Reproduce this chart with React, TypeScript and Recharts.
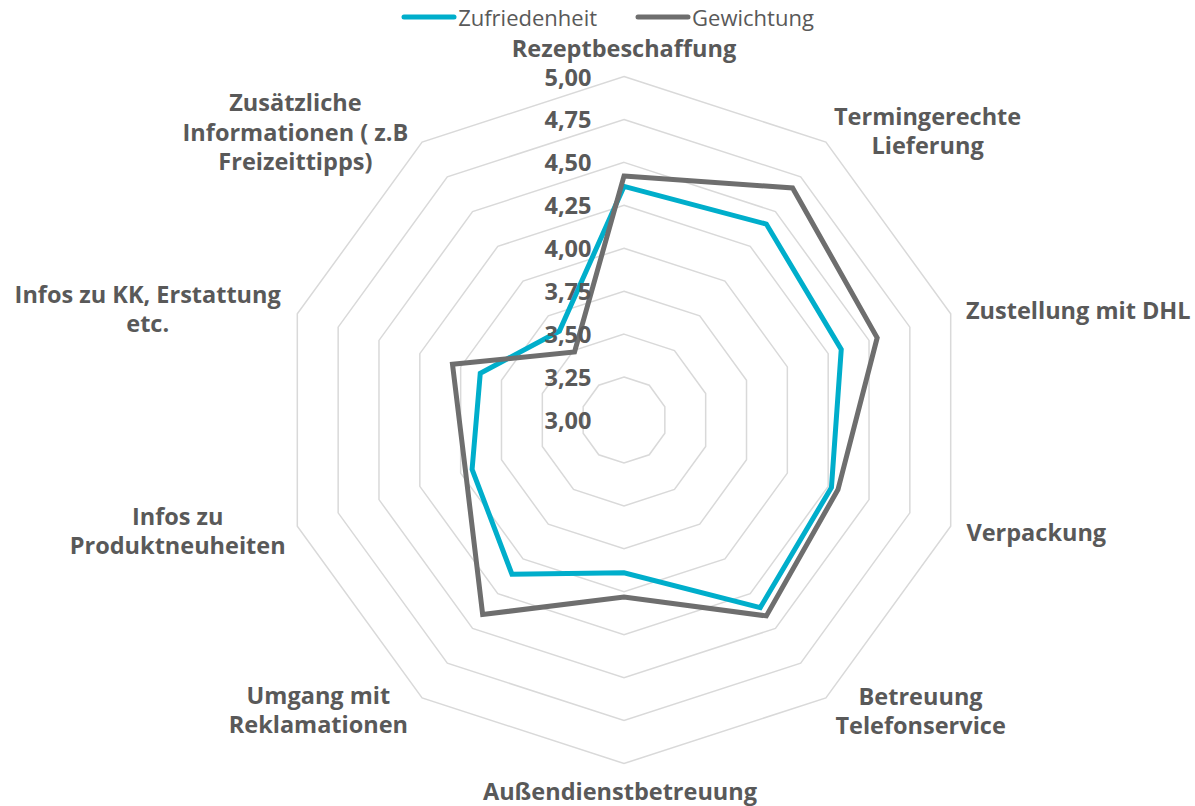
import React from 'react';
import { RadarChart, Radar, PolarGrid, PolarAngleAxis, PolarRadiusAxis, Legend } from 'recharts';

const categories = [
  'Rezeptbeschaffung',
  'Termingerechte Lieferung',
  'Zustellung mit DHL',
  'Verpackung',
  'Betreuung Telefonservice',
  'Außendienstbetreuung',
  'Umgang mit Reklamationen',
  'Infos zu Produktneuheiten',
  'Infos zu KK, Erstattung etc.',
  'Zusätzliche Informationen ( z.B Freizeittipps)',
];

const categoryLines = [
  ['Rezeptbeschaffung'],
  ['Termingerechte', 'Lieferung'],
  ['Zustellung mit DHL'],
  ['Verpackung'],
  ['Betreuung', 'Telefonservice'],
  ['Außendienstbetreuung'],
  ['Umgang mit', 'Reklamationen'],
  ['Infos zu', 'Produktneuheiten'],
  ['Infos zu KK, Erstattung', 'etc.'],
  ['Zusätzliche', 'Informationen ( z.B', 'Freizeittipps)'],
];

const zufriedenheit = [4.36, 4.41, 4.33, 4.27, 4.35, 3.89, 4.11, 3.93, 3.88, 3.64];
const gewichtung = [4.42, 4.67, 4.55, 4.31, 4.41, 4.03, 4.40, 3.97, 4.05, 3.49];

const radiusTicks = [3, 3.25, 3.5, 3.75, 4, 4.25, 4.5, 4.75, 5];

const seriesNames = ['Zufriedenheit', 'Gewichtung'];
const seriesColors = ['#00AECB', '#6E6E6E'];

// label placement offsets relative to the angle-axis tick point
const labelOffsets: [number, number][] = [
  [0, -21],
  [97, -5],
  [120, -1],
  [78, 3],
  [90, 6],
  [-4, 19],
  [-99, 5],
  [-112, 2],
  [-142, -3],
  [-122, -4],
];

const data = categories.map((c, i) => ({
  category: c,
  Zufriedenheit: zufriedenheit[i],
  Gewichtung: gewichtung[i],
}));

const FONT = '"Open Sans", "DejaVu Sans", sans-serif';
const TEXT = '#595959';

const AngleTick = (props: any) => {
  const { x, y, payload } = props;
  const idx = payload.index ?? categories.indexOf(payload.value);
  const lines = categoryLines[idx] || [payload.value];
  const [dx, dy] = labelOffsets[idx] || [0, 0];
  const lh = 29.5;
  const startY = y + dy - ((lines.length - 1) * lh) / 2;
  return (
    <text
      x={x + dx}
      y={startY}
      textAnchor="middle"
      dominantBaseline="central"
      fill={TEXT}
      fontFamily={FONT}
      fontWeight={700}
      fontSize={23.5}
    >
      {lines.map((l, k) => (
        <tspan key={k} x={x + dx} y={startY + k * lh}>
          {l}
        </tspan>
      ))}
    </text>
  );
};

const RadiusTick = (props: any) => {
  const { x, y, payload } = props;
  return (
    <text
      x={x - 56}
      y={y}
      textAnchor="middle"
      dominantBaseline="central"
      fill={TEXT}
      fontFamily={FONT}
      fontWeight={700}
      fontSize={23.5}
    >
      {Number(payload.value).toFixed(2).replace('.', ',')}
    </text>
  );
};

const LegendContent = () => (
  <div
    style={{
      display: 'flex',
      justifyContent: 'center',
      alignItems: 'center',
      fontFamily: FONT,
      fontSize: 22,
      color: TEXT,
      paddingLeft: 20,
      lineHeight: '26px',
    }}
  >
    {seriesNames.map((n, i) => (
      <div key={n} style={{ display: 'flex', alignItems: 'center', marginRight: i === 0 ? 38 : 0 }}>
        <svg width={56} height={10} style={{ marginRight: 1 }}>
          <line x1={3} y1={5} x2={53} y2={5} stroke={seriesColors[i]} strokeWidth={5} strokeLinecap="round" />
        </svg>
        <span>{n}</span>
      </div>
    ))}
  </div>
);

export default function App() {
  return (
    <div style={{ position: 'absolute', left: 0, top: 0, width: 1195, height: 806, background: '#fff' }}>
      <RadarChart
        width={1195}
        height={806}
        data={data}
        cx={624}
        cy={420}
        outerRadius={343.5}
        margin={{ top: 0, right: 0, bottom: 0, left: 0 }}
      >
        <PolarGrid gridType="polygon" radialLines={false} stroke="#D9D9D9" strokeWidth={1.5} />
        <PolarAngleAxis dataKey="category" tick={<AngleTick />} tickLine={false} axisLine={false} />
        <Radar
          name="Zufriedenheit"
          dataKey="Zufriedenheit"
          stroke={seriesColors[0]}
          strokeWidth={5}
          fill="none"
          fillOpacity={0}
          dot={false}
          isAnimationActive={false}
        />
        <Radar
          name="Gewichtung"
          dataKey="Gewichtung"
          stroke={seriesColors[1]}
          strokeWidth={5}
          fill="none"
          fillOpacity={0}
          dot={false}
          isAnimationActive={false}
        />
        <PolarRadiusAxis
          angle={90}
          domain={[3, 5]}
          ticks={radiusTicks}
          tickCount={9}
          type="number"
          axisLine={false}
          tickLine={false}
          tick={<RadiusTick />}
        />
        <Legend
          verticalAlign="top"
          align="center"
          content={<LegendContent />}
          wrapperStyle={{ top: 4, left: 0, width: 1195 }}
        />
      </RadarChart>
    </div>
  );
}
